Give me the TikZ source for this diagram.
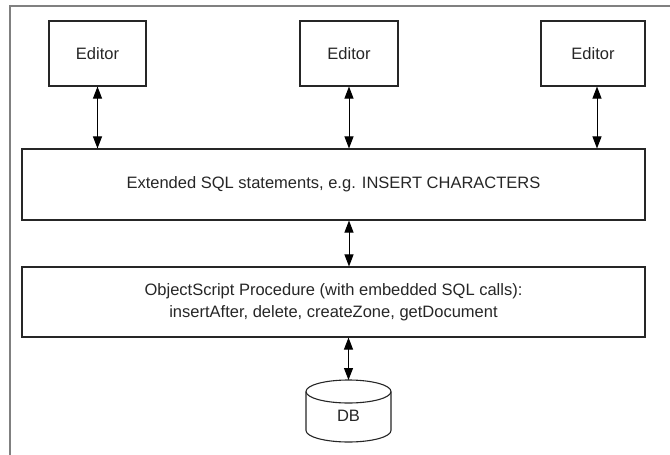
\documentclass[tikz,border=0pt]{standalone}
\usepackage{fontspec}
\setmainfont{Liberation Sans}
\usetikzlibrary{arrows.meta}
\begin{document}
\begin{tikzpicture}[x=1pt,y=-1pt,
  box/.style={draw=black!85, line width=1.1pt, inner sep=0pt, font=\fontsize{16.5}{22}\selectfont, align=center, text=black!85},
  link/.style={line width=1pt, {Triangle[length=12pt,width=9pt]}-{Triangle[length=12pt,width=9pt]}},
  frame/.style={draw=black!50, line width=2.5pt}]
\useasboundingbox (0,0) rectangle (670,455);
\draw[frame] (10,455) -- (10,6) -- (670,6);
\node[box, minimum width=97pt, minimum height=65pt] (e1) at (97.5,53.5) {Editor};
\node[box, minimum width=98pt, minimum height=65pt] (e2) at (349,53.5) {Editor};
\node[box, minimum width=104pt, minimum height=65pt] (e3) at (593,53.5) {Editor};
\node[box, minimum width=623pt, minimum height=71pt] (sql) at (333.5,184.5) {Extended SQL statements, e.g. INSERT CHARACTERS};
\node[box, minimum width=623pt, minimum height=70pt] (proc) at (333.5,302) {ObjectScript Procedure (with embedded SQL calls):\\insertAfter, delete, createZone, getDocument};
% DB cylinder
\coordinate (dbtop) at (348.5,380);
\draw[draw=black!85, line width=1.1pt, fill=white] (306,391.5) -- (306,430.5) arc[start angle=180, end angle=360, x radius=42.5pt, y radius=11.5pt] -- (391,391.5);
\draw[draw=black!85, line width=1.1pt] (348.5,391.5) ellipse[x radius=42.5pt, y radius=11.5pt];
\node[font=\fontsize{16.5}{22}\selectfont, text=black!85] (db) at (348.5,416) {DB};
% connectors
\draw[link] (e1.south) -- (e1.south |- sql.north);
\draw[link] (e2.south) -- (e2.south |- sql.north);
\draw[link] (e3.south -| 597,0) -- (597,0 |- sql.north);
\draw[link] (sql.south -| e2.south) -- (proc.north -| e2.south);
\draw[link] (proc.south -| dbtop) -- (dbtop);
\end{tikzpicture}
\end{document}
